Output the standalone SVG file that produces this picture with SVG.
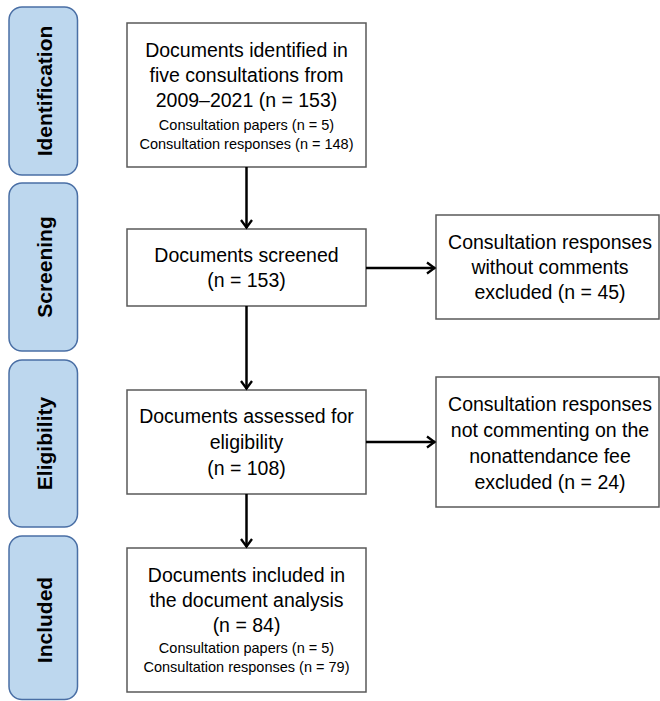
<svg xmlns="http://www.w3.org/2000/svg" width="660" height="701" viewBox="0 0 660 701">
<defs>
<style>
.stage{fill:#BDD7EE;stroke:#4A6FA5;stroke-width:1.5}
.stxt{font-family:"Liberation Sans",Arial,sans-serif;font-weight:bold;font-size:21px;fill:#000;text-anchor:middle}
.box{fill:#fff;stroke:#595959;stroke-width:1.5}
.t{font-family:"Liberation Sans",Arial,sans-serif;font-size:19.5px;fill:#000;text-anchor:middle}
.s{font-family:"Liberation Sans",Arial,sans-serif;font-size:14.5px;fill:#000;text-anchor:middle}
.c{stroke:#000;stroke-width:2.5;fill:none;marker-end:url(#arr)}
</style>
<marker id="arr" markerWidth="12" markerHeight="14" refX="9.5" refY="7" orient="auto" markerUnits="userSpaceOnUse">
<path d="M1.5,1.5 L9,7 L1.5,12.5" fill="none" stroke="#000" stroke-width="2.3"/>
</marker>
</defs>
<rect width="660" height="701" fill="#fff"/>

<g id="stage-identification">
<rect class="stage" x="9" y="7" width="68.5" height="168" rx="13"/>
<text class="stxt" transform="translate(51.5,91) rotate(-90)">Identification</text>
</g>
<g id="stage-screening">
<rect class="stage" x="9" y="183" width="68.5" height="168" rx="13"/>
<text class="stxt" transform="translate(51.5,267) rotate(-90)">Screening</text>
</g>
<g id="stage-eligibility">
<rect class="stage" x="9" y="360" width="68.5" height="167" rx="13"/>
<text class="stxt" transform="translate(51.5,443.5) rotate(-90)">Eligibility</text>
</g>
<g id="stage-included">
<rect class="stage" x="9" y="536" width="68.5" height="163.5" rx="13"/>
<text class="stxt" transform="translate(51.5,620) rotate(-90)">Included</text>
</g>

<g id="identified">
<rect class="box" x="127" y="23" width="239" height="144"/>
<text class="t" x="246.5" y="57">Documents identified in</text>
<text class="t" x="246.5" y="82">five consultations from</text>
<text class="t" x="246.5" y="107">2009–2021 (n = 153)</text>
<text class="s" x="246.5" y="130">Consultation papers (n = 5)</text>
<text class="s" x="246.5" y="149">Consultation responses (n = 148)</text>
</g>
<g id="screened">
<rect class="box" x="127" y="229" width="239" height="77"/>
<text class="t" x="246.5" y="262">Documents screened</text>
<text class="t" x="246.5" y="287">(n = 153)</text>
</g>
<g id="excluded1">
<rect class="box" x="436" y="215" width="223" height="104"/>
<text class="t" x="550" y="249">Consultation responses</text>
<text class="t" x="550" y="274">without comments</text>
<text class="t" x="550" y="299">excluded (n = 45)</text>
</g>
<g id="assessed">
<rect class="box" x="127" y="390" width="239" height="104"/>
<text class="t" x="246.5" y="423">Documents assessed for</text>
<text class="t" x="246.5" y="449">eligibility</text>
<text class="t" x="246.5" y="475">(n = 108)</text>
</g>
<g id="excluded2">
<rect class="box" x="436" y="377" width="223" height="130"/>
<text class="t" x="550" y="411">Consultation responses</text>
<text class="t" x="550" y="437">not commenting on the</text>
<text class="t" x="550" y="463">nonattendance fee</text>
<text class="t" x="550" y="489">excluded (n = 24)</text>
</g>
<g id="included">
<rect class="box" x="127" y="548" width="239" height="144"/>
<text class="t" x="246.5" y="582">Documents included in</text>
<text class="t" x="246.5" y="607">the document analysis</text>
<text class="t" x="246.5" y="632">(n = 84)</text>
<text class="s" x="246.5" y="653">Consultation papers (n = 5)</text>
<text class="s" x="246.5" y="672">Consultation responses (n = 79)</text>
</g>

<g id="connectors">
<line class="c" x1="246.5" y1="167" x2="246.5" y2="228"/>
<line class="c" x1="246.5" y1="306" x2="246.5" y2="389"/>
<line class="c" x1="246.5" y1="494" x2="246.5" y2="547"/>
<line class="c" x1="366" y1="268" x2="435" y2="268"/>
<line class="c" x1="366" y1="442" x2="435" y2="442"/>
</g>
</svg>
